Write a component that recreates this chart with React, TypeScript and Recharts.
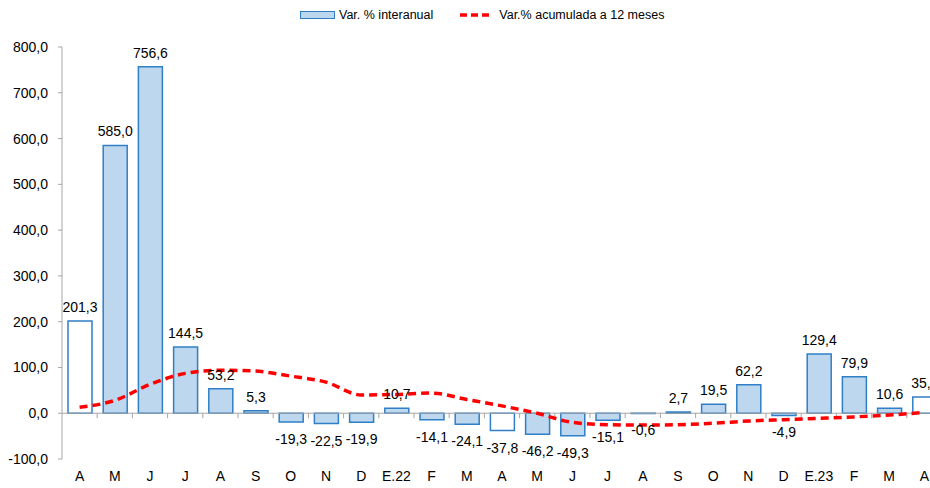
import React from 'react';
import { ComposedChart, Bar, Line, XAxis, YAxis, ReferenceLine, LabelList, Cell } from 'recharts';

const categories = ['A', 'M', 'J', 'J', 'A', 'S', 'O', 'N', 'D', 'E.22', 'F', 'M', 'A', 'M', 'J', 'J', 'A', 'S', 'O', 'N', 'D', 'E.23', 'F', 'M', 'A'];
const interanual = [201.3, 585.0, 756.6, 144.5, 53.2, 5.3, -19.3, -22.5, -19.9, 10.7, -14.1, -24.1, -37.8, -46.2, -49.3, -15.1, -0.6, 2.7, 19.5, 62.2, -4.9, 129.4, 79.9, 10.6, 35.7];
const acumulada = [13, 28, 63, 87, 94, 92, 81, 68, 40, 41, 44, 30, 16, 0, -20, -25, -26, -25, -22, -17, -14, -11, -8, -4, 2];
const hollowBars = [0, 12, 24];
const yTicks = [-100, 0, 100, 200, 300, 400, 500, 600, 700, 800];

const data = categories.map((c, i) => ({ key: i, cat: c, inter: interanual[i], acum: acumulada[i] }));

const FONT = '"Liberation Sans", Arial, sans-serif';
const BAR_FILL = '#BDD7EE';
const BAR_STROKE = '#2F7FC6';
const AXIS = '#A6A6A6';

const fmt = (v: number) => v.toFixed(1).replace('.', ',');

const renderLabel = (props: any) => {
  const { x, y, width, height, value } = props;
  const top = Math.min(y, y + height);
  const bottom = Math.max(y, y + height);
  const ty = value >= 0 ? top - 9 : bottom + 22;
  return (
    <text x={x + width / 2} y={ty} textAnchor="middle" fontSize={14} fontFamily={FONT} fill="#000">
      {fmt(value)}
    </text>
  );
};

const ZeroLine = (props: any) => {
  const { x1, x2, y1 } = props;
  const n = categories.length;
  const bw = (x2 - x1) / n;
  const ticks = [];
  for (let i = 1; i <= n; i++) {
    const tx = x1 + i * bw;
    ticks.push(<line key={i} x1={tx} x2={tx} y1={y1} y2={y1 + 5} stroke={AXIS} strokeWidth={1} />);
  }
  return (
    <g>
      <line x1={x1} x2={x2} y1={y1} y2={y1} stroke={AXIS} strokeWidth={1} />
      {ticks}
    </g>
  );
};

export default function App() {
  return (
    <div style={{ position: 'fixed', left: 0, top: 0, width: 930, height: 488, overflow: 'hidden', background: '#fff', fontFamily: FONT }}>
      <div style={{ position: 'absolute', left: 300, top: 7, height: 16, display: 'flex', alignItems: 'center', fontSize: 12.5, color: '#000', whiteSpace: 'nowrap' }}>
        <div style={{ width: 33, height: 6, background: BAR_FILL, border: `1px solid ${BAR_STROKE}` }} />
        <span style={{ marginLeft: 4 }}>Var. % interanual</span>
        <svg width={34} height={8} style={{ marginLeft: 26 }}>
          <line x1={1} x2={33} y1={4} y2={4} stroke="#FF0000" strokeWidth={3.5} strokeDasharray="7 4" />
        </svg>
        <span style={{ marginLeft: 6 }}>Var.% acumulada a 12 meses</span>
      </div>
      <ComposedChart width={945} height={488} data={data} margin={{ top: 47, right: 3, left: 0, bottom: 0 }} barSize={24}>
        <XAxis
          dataKey="key"
          tickFormatter={(i: number) => categories[i]}
          axisLine={false}
          tickLine={false}
          tickSize={0}
          tickMargin={12}
          height={29}
          interval={0}
          tick={{ fontSize: 14, fill: '#000', fontFamily: FONT }}
        />
        <YAxis
          domain={[-100, 800]}
          ticks={yTicks}
          width={62}
          tickFormatter={fmt}
          axisLine={{ stroke: AXIS }}
          tickLine={{ stroke: AXIS }}
          tickSize={4}
          tickMargin={10}
          tick={{ fontSize: 14, fill: '#000', fontFamily: FONT }}
          interval={0}
        />
        <ReferenceLine y={0} shape={ZeroLine} />
        <Bar dataKey="inter" fill={BAR_FILL} stroke={BAR_STROKE} strokeWidth={1.5} isAnimationActive={false}>
          {data.map((d, i) => (
            <Cell key={i} fill={hollowBars.includes(i) ? '#FFFFFF' : BAR_FILL} />
          ))}
          <LabelList dataKey="inter" content={renderLabel} />
        </Bar>
        <Line
          dataKey="acum"
          type="monotone"
          stroke="#FF0000"
          strokeWidth={3.5}
          strokeDasharray="8 5"
          dot={false}
          activeDot={false}
          isAnimationActive={false}
        />
      </ComposedChart>
    </div>
  );
}
